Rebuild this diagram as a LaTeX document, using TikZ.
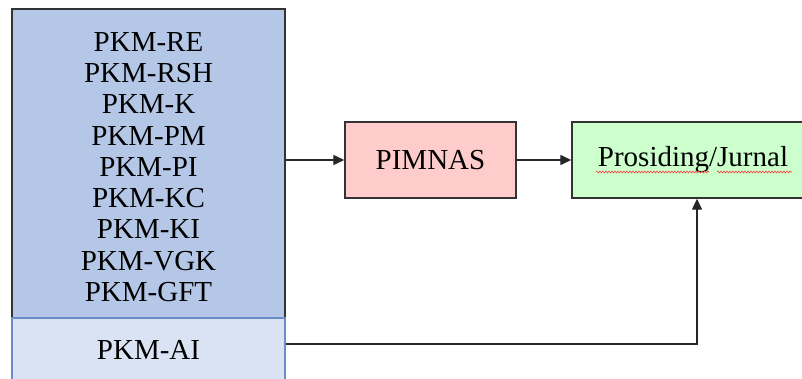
\documentclass[tikz,border=0pt]{standalone}
\usepackage{fontspec}
\setmainfont{Liberation Serif}
\usetikzlibrary{arrows.meta,decorations.pathmorphing}
\definecolor{topblue}{HTML}{B4C7E7}
\definecolor{aifill}{HTML}{DAE3F3}
\definecolor{aiblue}{HTML}{6A8CC8}
\definecolor{pimfill}{HTML}{FFCCCC}
\definecolor{profill}{HTML}{CCFFCC}
\definecolor{edge}{HTML}{333333}
\begin{document}
\begin{tikzpicture}[x=1pt,y=-1pt,
  box/.style={draw=edge, line width=1.4pt, inner sep=0pt, text=black, font=\fontsize{29}{31.25}\selectfont},
  lbl/.style={inner sep=0pt, text=black, font=\fontsize{29}{31.25}\selectfont},
  arr/.style={draw=black!85, line width=1.3pt, -{Triangle[length=11pt,width=10pt]}},
  squig/.style={draw=red!75, line width=0.6pt, decorate, decoration={snake, amplitude=0.9pt, segment length=3pt}}]
\useasboundingbox (0,0) rectangle (802,378);
\clip (0,0) rectangle (802,378);
\node[box, fill=topblue, minimum width=273pt, minimum height=309pt] (top) at (148.5,163.5) {};
\node[box, draw=aiblue, fill=aifill, minimum width=273pt, minimum height=80pt] (ai) at (148.5,358) {};
\node[lbl, align=center] (list) at (148.5,167) {PKM-RE\\PKM-RSH\\PKM-K\\PKM-PM\\PKM-PI\\PKM-KC\\PKM-KI\\PKM-VGK\\PKM-GFT};
\node[lbl] (aitext) at (148.5,350) {PKM-AI};
\node[box, fill=pimfill, minimum width=171pt, minimum height=76pt] (pim) at (430.5,160) {PIMNAS};
\node[box, fill=profill, minimum width=242pt, minimum height=76pt] (pro) at (693,160) {Prosiding/Jurnal};
\draw[squig] (596,172) -- (709,172);
\draw[squig] (717,172) -- (792,172);
\coordinate (corner) at (697,344);
\draw[arr] (top.east |- pim.west) -- (pim.west);
\draw[arr] (pim.east) -- (pro.west);
\draw[arr] (ai.east |- corner) -- (corner) -- (corner |- pro.south);
\end{tikzpicture}
\end{document}
